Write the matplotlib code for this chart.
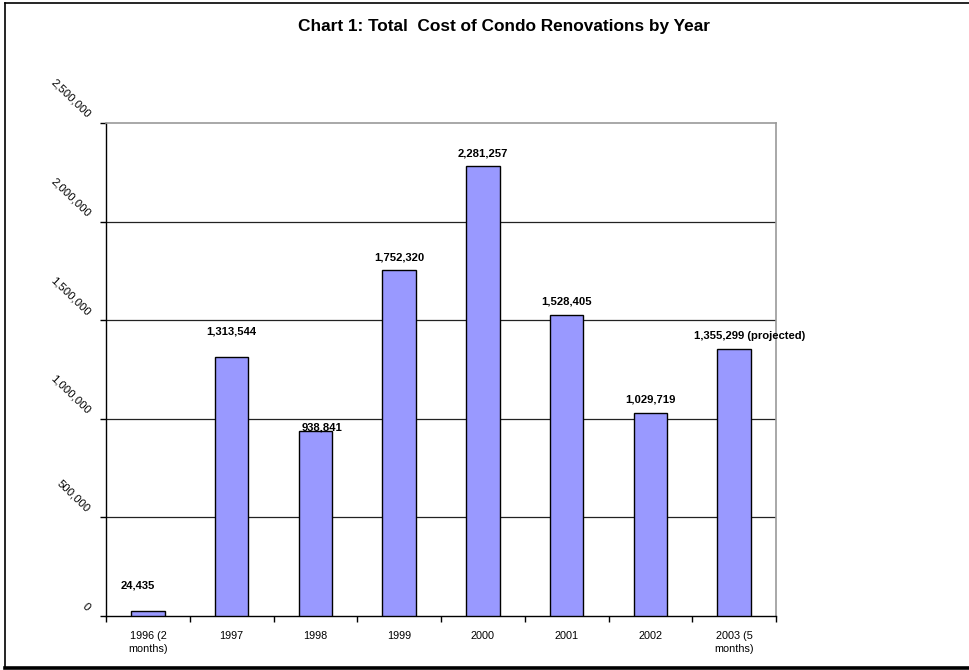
import matplotlib
matplotlib.use("Agg")
import matplotlib.pyplot as plt
from matplotlib.lines import Line2D
from matplotlib.ticker import FixedLocator, FuncFormatter
from matplotlib.transforms import ScaledTranslation

plt.rcParams['font.family'] = ['Liberation Sans', 'DejaVu Sans']

# Renovation totals by year
years = ["1996 (2\nmonths)", "1997", "1998", "1999", "2000", "2001", "2002", "2003 (5\nmonths)"]
costs = [24435, 1313544, 938841, 1752320, 2281257, 1528405, 1029719, 1355299]
value_labels = ["24,435", "1,313,544", "938,841", "1,752,320", "2,281,257",
                "1,528,405", "1,029,719", "1,355,299 (projected)"]
y_ticks = [0, 500000, 1000000, 1500000, 2000000, 2500000]

# label placement tweaks (pixels: dx, dy above bar top)
label_dx = [-10, 0, 7, 0, 0, 0, 0, 16]
label_dy = [26, 25, 3, 13, 13, 13, 13, 13]

fig = plt.figure(figsize=(9.7, 6.7), dpi=100)
W, H = 970, 670


def fx(px):
    return px / W


def fy(py):
    return 1 - py / H


# outer chart frame
fig.add_artist(Line2D([fx(5), fx(5)], [fy(3), fy(667)], color='black', lw=1.2))
fig.add_artist(Line2D([fx(5), fx(975)], [fy(3), fy(3)], color='black', lw=1.2))
fig.add_artist(Line2D([fx(5), fx(975)], [fy(667.5), fy(667.5)], color='black', lw=2.6))

left, right, top, bottom = 106, 776, 123, 616
ax = fig.add_axes([fx(left), fy(bottom), fx(right - left), (bottom - top) / H])

x = list(range(len(costs)))
ax.bar(x, costs, width=0.4, color='#9999FF', edgecolor='black', linewidth=1.0, zorder=3)

ax.set_xlim(-0.5, len(costs) - 0.5)
ax.set_ylim(0, 2500000)

# gridlines
for v in y_ticks[1:-1]:
    ax.axhline(v, color='#222222', lw=0.9, zorder=1)

for side in ['top', 'right']:
    ax.spines[side].set_color('#999999')
    ax.spines[side].set_linewidth(1.2)
for side in ['left', 'bottom']:
    ax.spines[side].set_color('black')
    ax.spines[side].set_linewidth(1.0)

# y axis with slanted labels
ax.yaxis.set_major_locator(FixedLocator(y_ticks))
ax.yaxis.set_major_formatter(FuncFormatter(lambda v, p: f"{int(v):,}"))
ax.tick_params(axis='y', direction='out', length=4, width=1, pad=11, labelsize=8.2)
lift = ScaledTranslation(0, 3 / 100, fig.dpi_scale_trans)
for lab in ax.get_yticklabels():
    lab.set_rotation(-44)
    lab.set_rotation_mode('anchor')
    lab.set_ha('right')
    lab.set_va('bottom')
    lab.set_transform(lab.get_transform() + lift)

# x axis: labels at centres, tick marks at boundaries
ax.set_xticks(x)
ax.set_xticklabels(years, fontsize=7.8, linespacing=1.3)
ax.tick_params(axis='x', which='major', length=0, pad=11)
ax.set_xticks([i - 0.5 for i in range(len(costs) + 1)], minor=True)
ax.tick_params(axis='x', which='minor', direction='out', length=4, width=1)

for xi, v, txt, dx, dy in zip(x, costs, value_labels, label_dx, label_dy):
    ax.annotate(txt, (xi, v), xytext=(dx, dy), textcoords='offset pixels',
                ha='center', va='center', fontsize=8.1, fontweight='bold', zorder=5)

fig.text(fx(504), fy(27), "Chart 1: Total  Cost of Condo Renovations by Year",
         ha='center', va='center', fontsize=12.4, fontweight='bold')

fig.savefig("out.png", dpi=100)
